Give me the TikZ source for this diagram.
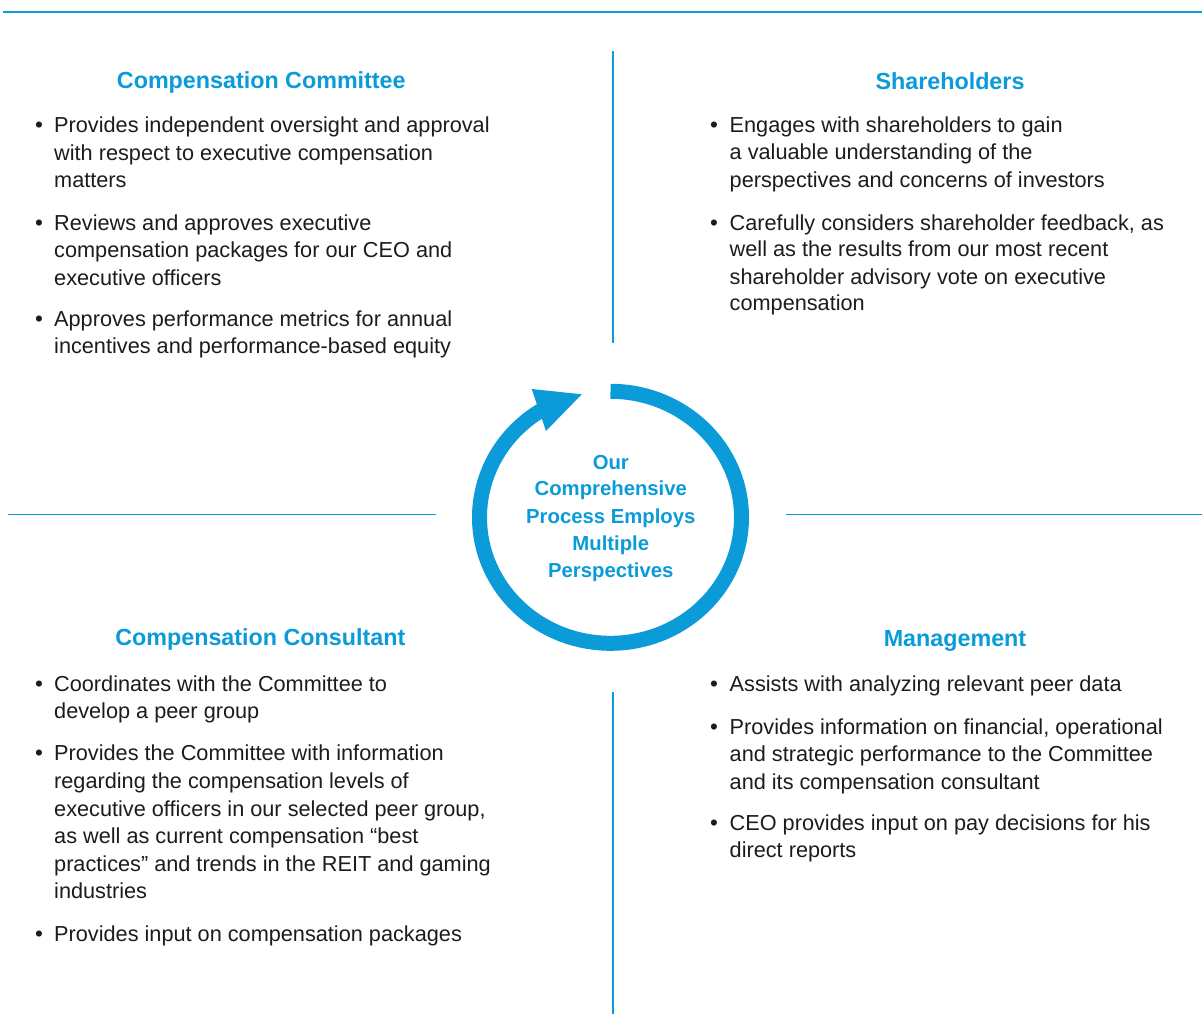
\documentclass[tikz,border=0pt]{standalone}
\usepackage{fontspec}
\setmainfont{Liberation Sans}
\definecolor{brand}{RGB}{10,155,216}
\definecolor{ink}{RGB}{30,27,28}
\tikzset{
  rule/.style={draw=brand, line width=1.5pt},
  head/.style={anchor=base, inner sep=0pt, text=brand, font=\fontsize{23.3}{28}\selectfont\bfseries},
  body/.style={anchor=base west, inner sep=0pt, text=ink, font=\fontsize{21.7}{27.6}\selectfont},
  dot/.style={anchor=base, inner sep=0pt, text=ink, font=\fontsize{22.5}{27.6}\selectfont},
  hubtext/.style={anchor=base, inner sep=0pt, text=brand, font=\fontsize{20.3}{27}\selectfont\bfseries},
}
\begin{document}
\begin{tikzpicture}[x=1pt,y=1pt]
\useasboundingbox (0,0) rectangle (1202,-1014);
\fill[white] (0,0) rectangle (1202,-1014);

% separators
\coordinate (topL) at (3,-12);
\coordinate (topR) at (1202,-12);
\coordinate (vt1) at (613,-51);
\coordinate (vt2) at (613,-343);
\coordinate (vb1) at (613,-692);
\coordinate (vb2) at (613,-1014);
\coordinate (hl1) at (8,-514.5);
\coordinate (hl2) at (436,-514.5);
\coordinate (hr1) at (786,-514.5);
\coordinate (hr2) at (1202,-514.5);
\draw[rule, line width=1.8pt] (topL) -- (topR);
\draw[rule, line width=2pt] (vt1) -- (vt2);
\draw[rule, line width=2pt] (vb1) -- (vb2);
\draw[rule] (hl1) -- (hl2);
\draw[rule] (hr1) -- (hr2);

% cycle ring with arrowhead
\coordinate (ringtop) at (610.5,-391.3);
\draw[brand, line width=15pt] (ringtop) arc[start angle=90, end angle=-239, x radius=131, y radius=126];
\coordinate (tipA) at (531.7,-389);
\coordinate (tipB) at (581.7,-394.3);
\coordinate (tipC) at (546,-431);
\fill[brand] (tipA) -- (tipB) -- (tipC) -- cycle;

% centre text
\foreach \yb/\lbody [count=\i] in {469/Our, 495.7/Comprehensive, 523.3/Process Employs, 550/Multiple, 577.3/Perspectives}
  \node[hubtext] (hub\i) at (610.8,-\yb) {\lbody};

% headings
\node[head] (hcc) at (261.3,-88.3) {Compensation Committee};
\node[head] (hsh) at (950,-90) {Shareholders};
\node[head] (hco) at (260.3,-645.7) {Compensation Consultant};
\node[head] (hmg) at (955,-646.7) {Management};

% Compensation Committee
\foreach \yb [count=\i] in {132.7,230.7,326.7}
  \node[dot] (ccb\i) at (39,-\yb) {•};
\foreach \yb/\lbody [count=\i] in {
  132.7/Provides independent oversight and approval,
  160.2/with respect to executive compensation,
  187.7/matters,
  230.7/Reviews and approves executive,
  257.8/compensation packages for our CEO and,
  285/executive officers,
  326.7/Approves performance metrics for annual,
  353.8/incentives and performance-based equity}
  \node[body] (cc\i) at (54,-\yb) {\lbody};

% Shareholders
\foreach \yb [count=\i] in {132.7,230}
  \node[dot] (shb\i) at (714,-\yb) {•};
\foreach \yb/\lbody [count=\i] in {
  132.7/Engages with shareholders to gain,
  160/a valuable understanding of the,
  187.7/perspectives and concerns of investors,
  230/{Carefully considers shareholder feedback, as},
  256.9/well as the results from our most recent,
  284.2/shareholder advisory vote on executive,
  310.9/compensation}
  \node[body] (sh\i) at (729.5,-\yb) {\lbody};

% Compensation Consultant
\foreach \yb [count=\i] in {691,760.7,941}
  \node[dot] (cob\i) at (39,-\yb) {•};
\foreach \yb/\lbody [count=\i] in {
  691/Coordinates with the Committee to,
  718.6/develop a peer group,
  760.7/Provides the Committee with information,
  788.3/regarding the compensation levels of,
  816/{executive officers in our selected peer group,},
  843.6/as well as current compensation “best,
  871.2/practices” and trends in the REIT and gaming,
  898.6/industries,
  941/Provides input on compensation packages}
  \node[body] (co\i) at (54,-\yb) {\lbody};

% Management
\foreach \yb [count=\i] in {691,734.3,830}
  \node[dot] (mgb\i) at (714,-\yb) {•};
\foreach \yb/\lbody [count=\i] in {
  691/Assists with analyzing relevant peer data,
  734.3/{Provides information on financial, operational},
  761.7/and strategic performance to the Committee,
  789/and its compensation consultant,
  830/CEO provides input on pay decisions for his,
  857/direct reports}
  \node[body] (mg\i) at (729.5,-\yb) {\lbody};
\end{tikzpicture}
\end{document}
